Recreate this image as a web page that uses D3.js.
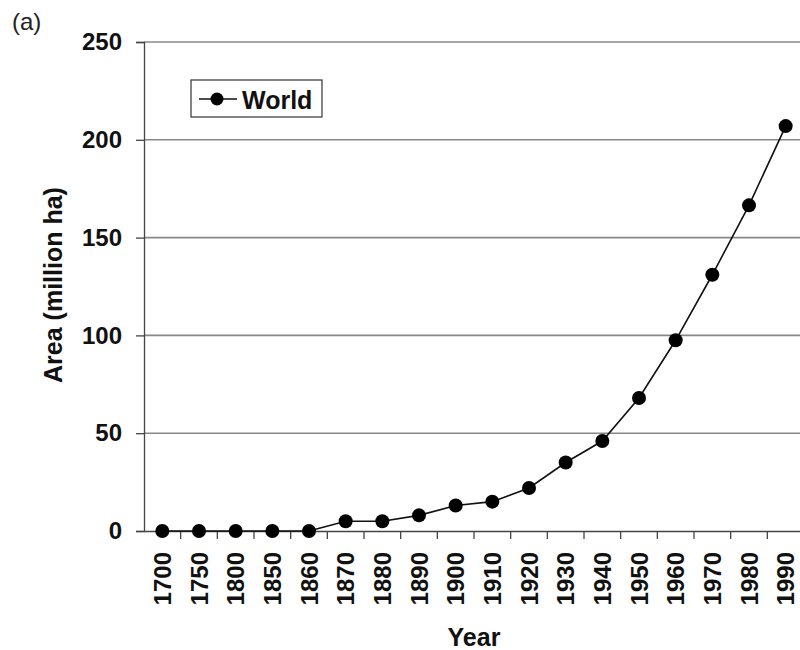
<!DOCTYPE html>
<html><head><meta charset="utf-8">
<script src="https://cdn.jsdelivr.net/npm/d3@7"></script>
<style>body{margin:0;background:#fff}text{font-family:"Liberation Sans",Arial,sans-serif}</style>
</head><body><svg id="c" width="800" height="650"></svg>
<script>
const years = ["1700","1750","1800","1850","1860","1870","1880","1890","1900","1910","1920","1930","1940","1950","1960","1970","1980","1990"];
const world = [0,0,0,0,0,5,5,8,13,15,22,35,46,68,97.5,131,166.5,207];
const yTicks = [0,50,100,150,200,250];

const svg = d3.select("#c");
const x = d3.scaleBand().domain(years).range([144, 804]);
const y = d3.scaleLinear().domain([0,250]).range([531, 42]);
const FF = "Liberation Sans, Arial, sans-serif";

// gridlines
svg.append("g").selectAll("line").data(yTicks.filter(d=>d>0)).join("line")
  .attr("x1",144).attr("x2",800).attr("y1",d=>y(d)).attr("y2",d=>y(d))
  .attr("stroke","#888").attr("stroke-width",1.6);

// y axis
const ya = svg.append("g").attr("transform","translate(144,0)")
  .call(d3.axisLeft(y).tickValues(yTicks).tickSize(8).tickPadding(14));
ya.select(".domain").attr("stroke","#444").attr("stroke-width",1.3);
ya.selectAll(".tick line").attr("stroke","#444").attr("stroke-width",1.3);
ya.selectAll("text").attr("font-size",24).attr("font-weight","bold").attr("fill","#111")
  .attr("font-family",FF);

// x axis
const xa = svg.append("g").attr("transform","translate(0,531)")
  .call(d3.axisBottom(x).tickSize(0).tickPadding(0));
xa.select(".domain").attr("stroke","#444").attr("stroke-width",1.3);
xa.selectAll(".tick text").attr("font-size",24).attr("font-weight","bold").attr("fill","#111")
  .attr("font-family",FF)
  .attr("transform","rotate(-90)").attr("text-anchor","end").attr("dx","-21").attr("dy","0.36em").attr("y",0);
// band boundary ticks
svg.append("g").selectAll("line").data(years.slice(1)).join("line")
  .attr("x1",d=>x(d)).attr("x2",d=>x(d)).attr("y1",531).attr("y2",539)
  .attr("stroke","#444").attr("stroke-width",1.3);

// line
const cx = d=>x(d)+x.bandwidth()/2;
svg.append("path").datum(years.map((d,i)=>[cx(d),y(world[i])]))
  .attr("d",d3.line()).attr("fill","none").attr("stroke","#111").attr("stroke-width",1.6);
svg.append("g").selectAll("circle").data(years).join("circle")
  .attr("cx",cx).attr("cy",(d,i)=>y(world[i])).attr("r",7).attr("fill","#000");

// legend
const lg = svg.append("g");
lg.append("rect").attr("x",191).attr("y",80).attr("width",131).attr("height",37)
  .attr("fill","#fff").attr("stroke","#333").attr("stroke-width",1.2);
lg.append("line").attr("x1",199).attr("x2",237).attr("y1",99).attr("y2",99).attr("stroke","#111").attr("stroke-width",1.6);
lg.append("circle").attr("cx",217).attr("cy",99).attr("r",6.5).attr("fill","#000");
lg.append("text").attr("x",242).attr("y",109).attr("font-size",25).attr("font-weight","bold").attr("fill","#111").text("World");

// titles
svg.append("text").attr("transform","translate(62,285) rotate(-90)").attr("text-anchor","middle")
  .attr("font-size",25).attr("font-weight","bold").attr("fill","#111").text("Area (million ha)");
svg.append("text").attr("x",474).attr("y",646).attr("text-anchor","middle")
  .attr("font-size",25).attr("font-weight","bold").attr("fill","#111").text("Year");
svg.append("text").attr("x",12).attr("y",30).attr("font-size",24).attr("fill","#222").text("(a)");
</script></body></html>
